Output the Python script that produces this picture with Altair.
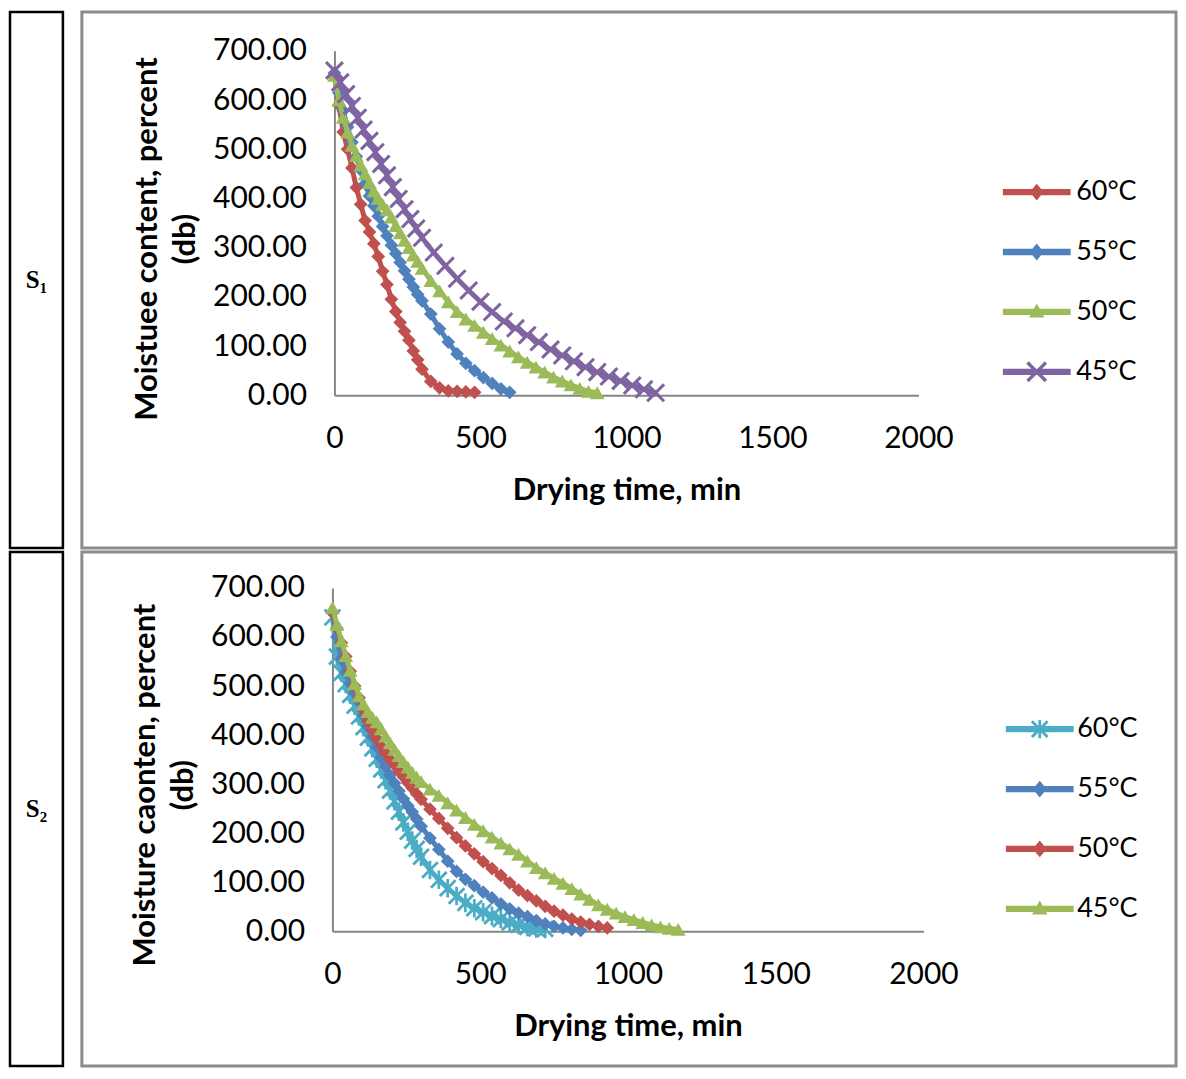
import altair as alt
import pandas as pd

FONT = "Lato"
TXT = "#000000"
AXC = "#868686"

row_labels = ["S\u2081", "S\u2082"]
x_ticks = [0, 500, 1000, 1500, 2000]
y_ticks = [0, 100, 200, 300, 400, 500, 600, 700]
x_title = "Drying time, min"
y_title_s1 = ["Moistuee content, percent", "(db)"]
y_title_s2 = ["Moisture caonten, percent", "(db)"]
names = ["60°C", "55°C", "50°C", "45°C"]

# ---- S1 ----
s1_t60 = [0, 15, 30, 45, 60, 75, 90, 105, 120, 135, 150, 165, 180, 195, 210, 225, 240, 255, 270, 285, 300,
          330, 360, 390, 420, 450, 480]
s1_m60 = [650, 590, 535, 500, 462, 422, 388, 355, 332, 308, 282, 252, 225, 195, 170, 148, 130, 112, 90, 72, 53,
          28, 15, 9, 8, 7, 6]
s1_t55 = [0, 15, 30, 45, 60, 75, 90, 105, 120, 135, 150, 165, 180, 195, 210, 225, 240, 255, 270, 285, 300,
          330, 360, 390, 420, 450, 480, 510, 540, 570, 600]
s1_m55 = [655, 615, 578, 545, 514, 485, 458, 430, 405, 385, 364, 343, 324, 305, 288, 270, 253, 236, 220, 205, 192,
          165, 135, 108, 84, 65, 50, 36, 24, 13, 6]
s1_t50 = [0, 15, 30, 45, 60, 75, 90, 105, 120, 135, 150, 165, 180, 195, 210, 225, 240, 255, 270, 285, 300,
          330, 360, 390, 420, 450, 480, 510, 540, 570, 600, 630, 660, 690, 720, 750, 780, 810, 840, 870, 900]
s1_m50 = [650, 600, 565, 535, 508, 487, 468, 450, 432, 415, 400, 388, 377, 362, 345, 330, 315, 300, 285, 272, 258,
          233, 212, 190, 170, 155, 142, 128, 115, 102, 90, 78, 67, 57, 47, 37, 29, 21, 14, 8, 5]
s1_t45 = [0, 20, 40, 60, 80, 100, 120, 140, 160, 180, 200, 220, 240, 260, 280, 300,
          340, 380, 420, 460, 500, 540, 580, 620, 660, 700, 740, 780, 820, 860, 900, 940, 980, 1020, 1060, 1100]
s1_m45 = [660, 636, 612, 588, 564, 540, 517, 494, 470, 447, 423, 399, 378, 358, 339, 320,
          290, 263, 237, 213, 190, 169, 150, 136, 122, 108, 93, 81, 69, 57, 47, 38, 29, 20, 12, 5]

# ---- S2 ----
s2_t60 = [0, 15, 30, 45, 60, 75, 90, 105, 120, 135, 150, 165, 180, 195, 210, 225, 240, 255, 270, 285, 300,
          330, 360, 390, 420, 450, 480, 510, 540, 570, 600, 630, 660, 690, 720]
s2_m60 = [640, 560, 527, 504, 482, 460, 438, 416, 395, 373, 352, 330, 308, 287, 265, 244, 222, 203, 185, 168, 152,
          125, 105, 88, 72, 58, 47, 39, 31, 25, 18, 13, 9, 6, 5]
s2_t55 = [0, 15, 30, 45, 60, 75, 90, 105, 120, 135, 150, 165, 180, 195, 210, 225, 240, 255, 270, 285, 300,
          330, 360, 390, 420, 450, 480, 510, 540, 570, 600, 630, 660, 690, 720, 750, 780, 810, 840]
s2_m55 = [650, 600, 555, 528, 505, 486, 468, 440, 418, 397, 376, 354, 336, 318, 302, 286, 270, 256, 243, 229, 214,
          190, 167, 143, 122, 106, 93, 80, 68, 56, 46, 37, 30, 22, 15, 10, 7, 4, 2]
s2_t50 = [0, 15, 30, 45, 60, 75, 90, 105, 120, 135, 150, 165, 180, 195, 210, 225, 240, 255, 270, 285, 300,
          330, 360, 390, 420, 450, 480, 510, 540, 570, 600, 630, 660, 690, 720, 750, 780, 810, 840, 870, 900, 930]
s2_m50 = [650, 618, 588, 560, 530, 500, 476, 450, 428, 410, 393, 378, 364, 351, 339, 327, 315, 303, 292, 280, 269,
          249, 230, 210, 191, 174, 158, 142, 128, 114, 99, 84, 73, 62, 51, 41, 33, 25, 19, 14, 10, 7]
s2_t45 = [0, 15, 30, 45, 60, 75, 90, 105, 120, 135, 150, 165, 180, 195, 210, 225, 240, 255, 270, 285, 300,
          330, 360, 390, 420, 450, 480, 510, 540, 570, 600, 630, 660, 690, 720, 750, 780, 810, 840, 870, 900,
          930, 960, 990, 1020, 1050, 1080, 1110, 1140, 1170]
s2_m45 = [660, 625, 592, 562, 532, 505, 480, 463, 448, 436, 427, 413, 398, 384, 371, 358, 346, 335, 324, 314, 305,
          290, 277, 262, 247, 232, 218, 205, 192, 180, 168, 157, 143, 130, 119, 108, 98, 87, 76, 65, 54,
          45, 37, 30, 24, 18, 13, 9, 6, 4]

RED, BLUE, GREEN, PURPLE, CYAN = "#C0504D", "#4F81BD", "#9BBB59", "#8064A2", "#4BACC6"

# plot marker shapes (unit coordinates)
XMARK = ("M-1.1,-0.85L-0.85,-1.1L0,-0.25L0.85,-1.1L1.1,-0.85L0.25,0L1.1,0.85L0.85,1.1"
         "L0,0.25L-0.85,1.1L-1.1,0.85L-0.25,0Z")
STAR = XMARK + "M-0.17,-1.15L0.17,-1.15L0.17,1.15L-0.17,1.15Z"

# legend symbols: line piece + marker
LINE = "M-4.85,-0.45L4.85,-0.45L4.85,0.45L-4.85,0.45Z"
L_DIAMOND = LINE + "M0,-1.2L1.0,0L0,1.2L-1.0,0Z"
L_TRI = LINE + "M0,-1.2L1.1,0.8L-1.1,0.8Z"
L_X = LINE + ("M-1.49,-1.15L-1.15,-1.49L0,-0.34L1.15,-1.49L1.49,-1.15L0.34,0L1.49,1.15L1.15,1.49"
              "L0,0.34L-1.15,1.49L-1.49,1.15L-0.34,0Z")
L_STAR = LINE + ("M-1.27,-0.98L-0.98,-1.27L0,-0.29L0.98,-1.27L1.27,-0.98L0.29,0L1.27,0.98L0.98,1.27"
                 "L0,0.29L-0.98,1.27L-1.27,0.98L-0.29,0Z") + "M-0.2,-1.3L0.2,-1.3L0.2,1.3L-0.2,1.3Z"


def ternary(pairs):
    expr = "'" + pairs[-1][1] + "'"
    for k, v in reversed(pairs[:-1]):
        expr = "datum.value === '" + k + "' ? '" + v + "' : " + expr
    return expr


def make_panel(series, ytitle, width, height, xr, yr, lx, ly, loff, ytitle_y):
    rows = []
    for s in series:
        for t, m in zip(s["t"], s["m"]):
            rows.append({"t": t, "m": m, "series": s["name"]})
    df = pd.DataFrame(rows)
    nm = [s["name"] for s in series]
    cols = [s["color"] for s in series]
    shape_expr = ternary([(s["name"], s["lshape"]) for s in series])
    fill_expr = ternary([(s["name"], s["color"]) for s in series])

    leg = alt.Legend(
        title=None, orient="none", legendX=lx, legendY=ly, padding=0,
        symbolSize=196, labelOffset=loff, rowPadding=32,
        labelFont=FONT, labelFontSize=27, labelColor=TXT,
        symbolType=alt.ExprRef(expr=shape_expr),
        symbolFillColor=alt.ExprRef(expr=fill_expr),
        symbolStrokeWidth=0, symbolOpacity=1,
    )
    X = alt.X("t:Q", scale=alt.Scale(domain=[0, 2000], range=xr, nice=False),
              axis=alt.Axis(values=x_ticks, format="d", title=x_title,
                            offset=-(height - yr[0]), ticks=False, tickSize=0, grid=False,
                            domainColor=AXC, domainWidth=2,
                            labelFont=FONT, labelFontSize=30, labelColor=TXT, labelPadding=28,
                            labelFlush=False, labelOverlap=False,
                            titleFont=FONT, titleFontSize=31, titleFontWeight="bold",
                            titleColor=TXT, titlePadding=22))
    Y = alt.Y("m:Q", scale=alt.Scale(domain=[0, 700], range=yr, nice=False),
              axis=alt.Axis(values=y_ticks, format=".2f", title=ytitle,
                            offset=-xr[0], ticks=False, tickSize=0, grid=False,
                            domainColor=AXC, domainWidth=2,
                            labelFont=FONT, labelFontSize=30, labelColor=TXT, labelPadding=28,
                            labelFlush=False, labelOverlap=False,
                            titleFont=FONT, titleFontSize=31, titleFontWeight="bold",
                            titleColor=TXT, titlePadding=11, titleLineHeight=38,
                            titleY=ytitle_y))
    C = alt.Color("series:N", scale=alt.Scale(domain=nm, range=cols), legend=leg)

    base = alt.Chart(df)
    layers = []
    for s in series:
        f = alt.datum.series == s["name"]
        layers.append(base.transform_filter(f).mark_line(strokeWidth=5, strokeJoin="round",
                                                          strokeCap="round")
                      .encode(x=X, y=Y, color=C))
        layers.append(base.transform_filter(f).mark_point(filled=True, shape=s["shape"], size=s["size"],
                                                           opacity=1, strokeWidth=0)
                      .encode(x=X, y=Y, color=C))
    return alt.layer(*layers).properties(
        width=width, height=height,
        view=alt.ViewBackground(stroke="#8c8c8c", strokeWidth=3),
    )


def label_cell(text, height):
    return alt.Chart(pd.DataFrame({"lab": [text]})).mark_text(
        font="Liberation Serif", fontWeight="bold", fontSize=25, color=TXT
    ).encode(text="lab:N").properties(
        width=53, height=height, view=alt.ViewBackground(stroke="black", strokeWidth=2.5)
    )


s1 = [
    {"name": names[0], "t": s1_t60, "m": s1_m60, "color": RED, "shape": "diamond", "size": 190, "lshape": L_DIAMOND},
    {"name": names[1], "t": s1_t55, "m": s1_m55, "color": BLUE, "shape": "diamond", "size": 190, "lshape": L_DIAMOND},
    {"name": names[2], "t": s1_t50, "m": s1_m50, "color": GREEN, "shape": "triangle-up", "size": 220, "lshape": L_TRI},
    {"name": names[3], "t": s1_t45, "m": s1_m45, "color": PURPLE, "shape": XMARK, "size": 300, "lshape": L_X},
]
s2 = [
    {"name": names[0], "t": s2_t60, "m": s2_m60, "color": CYAN, "shape": STAR, "size": 260, "lshape": L_STAR},
    {"name": names[1], "t": s2_t55, "m": s2_m55, "color": BLUE, "shape": "diamond", "size": 190, "lshape": L_DIAMOND},
    {"name": names[2], "t": s2_t50, "m": s2_m50, "color": RED, "shape": "diamond", "size": 190, "lshape": L_DIAMOND},
    {"name": names[3], "t": s2_t45, "m": s2_m45, "color": GREEN, "shape": "triangle-up", "size": 220, "lshape": L_TRI},
]

H1, H2 = 537, 515
p1 = make_panel(s1, y_title_s1, 1096, H1, [253, 838], [384, 39], 1015, 167, 26, 227)
p2 = make_panel(s2, y_title_s2, 1096, H2, [251, 843], [380, 36], 1018, 164, 24, 233)

row1 = alt.hconcat(label_cell(row_labels[0], H1), p1, spacing=15)
row2 = alt.hconcat(label_cell(row_labels[1], H2), p2, spacing=15)

chart = alt.vconcat(row1, row2, spacing=0).resolve_scale(
    color="independent", x="independent", y="independent"
).resolve_legend(color="independent").properties(
    padding={"left": 0, "top": 1, "right": 0, "bottom": 0}
)

chart.save("out.html", embed_options={"renderer": "svg", "actions": False})
